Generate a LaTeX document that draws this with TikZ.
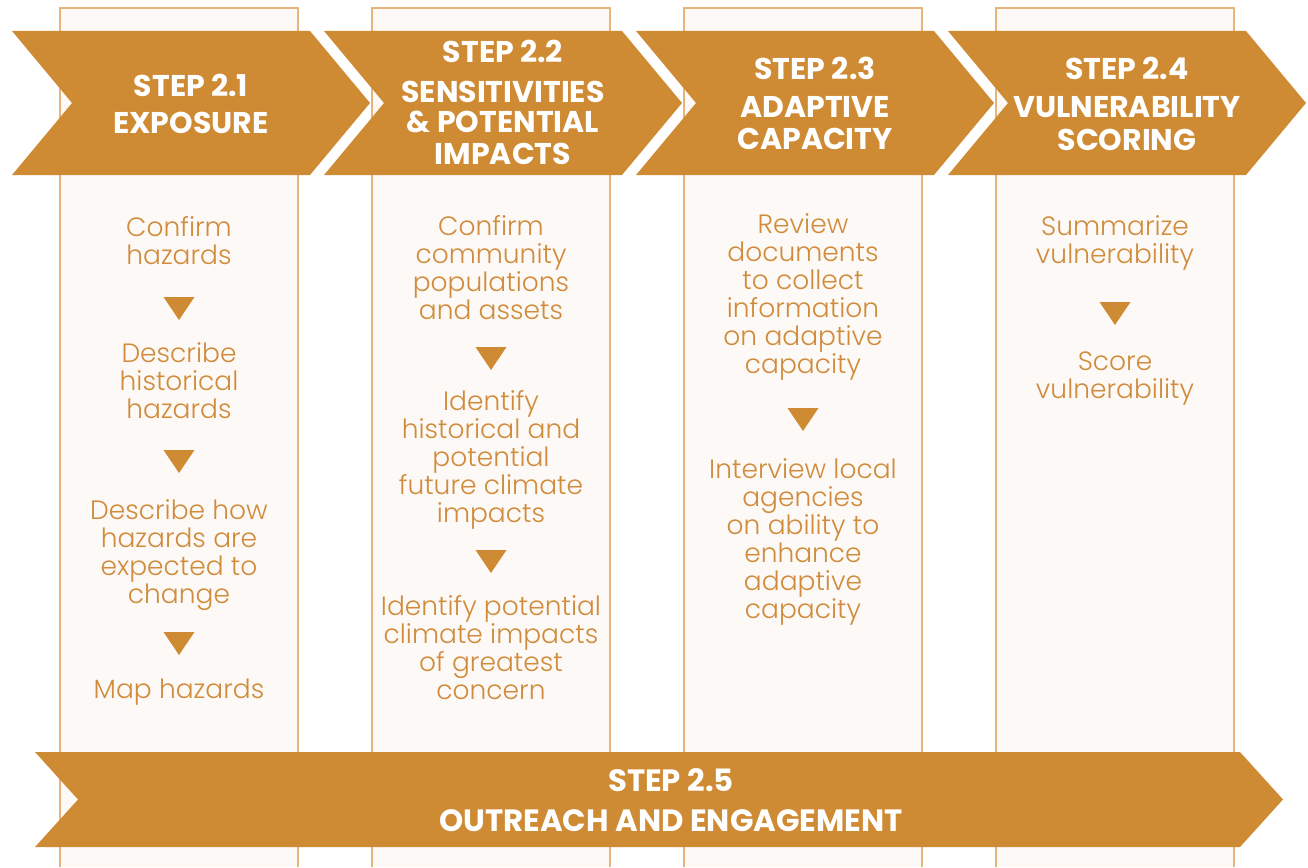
\documentclass[tikz,border=0pt]{standalone}
\usepackage{fontspec}
\setmainfont{Poppins}[UprightFont=* Light]
\newfontfamily\headfont{Poppins}[UprightFont=* Bold]
\definecolor{orng}{HTML}{CF8A34}
\definecolor{txtorng}{HTML}{D08C3C}
\definecolor{colfill}{HTML}{FDF9F6}
\definecolor{colline}{HTML}{E8B47C}
\tikzset{
  bodytext/.style={text=txtorng, align=center, inner sep=0pt,
    font=\fontsize{26.5}{28}\selectfont},
  headtext/.style={text=white, inner sep=0pt, anchor=base,
    font=\headfont\fontsize{30}{32}\selectfont},
  bigheadtext/.style={headtext, font=\headfont\fontsize{30.8}{32}\selectfont},
  chev/.style={fill=orng},
  tri/.style={fill=orng},
  colbox/.style={fill=colfill},
  coledge/.style={draw=colline, line width=1.3pt}
}
\newcommand{\downtri}[2]{\fill[tri] (#1-15.5,#2) -- (#1+15.5,#2) -- (#1,#2+23) -- cycle;}
\begin{document}
\begin{tikzpicture}[x=1pt,y=-1pt]
\useasboundingbox (0,0) rectangle (1308,867);
% columns
\foreach \c in {60,372,684,996}{
  \fill[colbox] (\c,8) rectangle (\c+238,867);
  \draw[coledge] (\c,867) -- (\c,8) -- (\c+238,8) -- (\c+238,867);
}
% chevrons
\foreach \c in {12,324,636,948}{
  \fill[chev] (\c,31) -- (\c+298,31) -- (\c+358,103) -- (\c+298,175) -- (\c,175) -- (\c+60,103) -- cycle;
}
% bottom banner
\fill[chev] (35,752) -- (1240,752) -- (1283,799.5) -- (1240,847) -- (35,847) -- (78,799.5) -- cycle;

% headings
\node[headtext] (h1a) at (191,96.5) {STEP 2.1};
\node[headtext] (h1b) at (191,133.5) {EXPOSURE};
\node[headtext] (h2a) at (503,62.5) {STEP 2.2};
\node[headtext] (h2b) at (503,102.5) {SENSITIVITIES};
\node[headtext] (h2c) at (503,132.5) {\& POTENTIAL};
\node[headtext] (h2d) at (503,164.5) {IMPACTS};
\node[headtext] (h3a) at (815,79.5) {STEP 2.3};
\node[headtext] (h3b) at (815,117.5) {ADAPTIVE};
\node[headtext] (h3c) at (815,149.5) {CAPACITY};
\node[headtext] (h4a) at (1127,79.5) {STEP 2.4};
\node[headtext] (h4b) at (1127,117.5) {VULNERABILITY};
\node[headtext] (h4c) at (1127,150.5) {SCORING};
\node[bigheadtext] (h5a) at (671,791) {STEP 2.5};
\node[bigheadtext] (h5b) at (671,831) {OUTREACH AND ENGAGEMENT};

% column 1
\node[bodytext] (c1a) at (179,240.5) {Confirm\\hazards};
\node[bodytext] (c1b) at (179,381) {Describe\\historical\\hazards};
\node[bodytext] (c1c) at (179,555) {Describe how\\hazards are\\expected to\\change};
\node[bodytext] (c1d) at (179,692) {Map hazards};
\downtri{179}{297}
\downtri{179}{450}
\downtri{179}{632}
% column 2
\node[bodytext] (c2a) at (491,268) {Confirm\\community\\populations\\and assets};
\node[bodytext] (c2b) at (491,460) {Identify\\historical and\\potential\\future climate\\impacts};
\node[bodytext] (c2c) at (491,648) {Identify potential\\climate impacts\\of greatest\\concern};
\downtri{491}{347}
\downtri{491}{550}
% column 3
\node[bodytext] (c3a) at (803,297) {Review\\documents\\to collect\\information\\on adaptive\\capacity};
\node[bodytext] (c3b) at (803,542) {Interview local\\agencies\\on ability to\\enhance\\adaptive\\capacity};
\downtri{803}{408}
% column 4
\node[bodytext] (c4a) at (1115,243) {Summarize\\vulnerability};
\node[bodytext] (c4b) at (1115,379) {Score\\vulnerability};
\downtri{1115}{302}
\end{tikzpicture}
\end{document}
